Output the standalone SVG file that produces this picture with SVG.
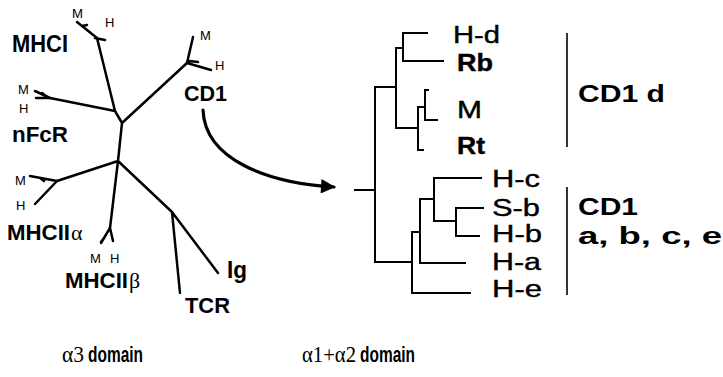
<svg xmlns="http://www.w3.org/2000/svg" width="723" height="377" viewBox="0 0 723 377">
<defs>
<style>
.tree{fill:none;stroke:#000;stroke-width:2.5;stroke-linecap:round;stroke-linejoin:round}
.dend{fill:none;stroke:#000;stroke-width:2;stroke-linecap:square}
.brk{fill:none;stroke:#000;stroke-width:1.6}
.lbl{font-family:"Liberation Sans",Arial,sans-serif;font-weight:bold;fill:#000}
.sm{font-family:"Liberation Sans",Arial,sans-serif;font-size:13px;fill:#000}
.leaf{font-family:"Liberation Sans",Arial,sans-serif;font-size:23px;fill:#000;stroke:#000;stroke-width:0.4}
.gr{font-family:"Liberation Serif","Times New Roman",serif;font-weight:normal;fill:#000}
</style>
<marker id="ah" viewBox="0 0 10 10" refX="9" refY="5" markerWidth="5" markerHeight="4.5" orient="auto" markerUnits="strokeWidth">
<path d="M0,0 L10,5 L0,10 z" fill="#000"/>
</marker>
</defs>
<rect width="723" height="377" fill="#fff"/>

<g id="connectors">
<path class="tree" d="M122,123 L115,111 M115,111 L97,38 M115,111 L50,98 M122,123 L187,63 M122,123 L118,161 M118,161 L57,181 M118,161 L110,228 M118,161 L172,212 L218,273 M172,212 L180,293"/>
<path class="tree" stroke-width="2" d="M97,38 L77,22 M82,26 L87,25 M95,38 L105,40 M187,63 L193,37 M187,63 L211,70 M189,61 L198,62 M50,98 L35,91 M50,98 L36,98 M46,96 L42,93 M57,181 L30,176 M40,178 L44,181 M57,181 L35,204 M110,228 L101,243 M110,228 L113,241 M104,238 L101,242"/>
<path fill="none" stroke="#000" stroke-width="3.2" stroke-linecap="round" d="M203,110 C205,160 268,183 334,187" marker-end="url(#ah)"/>
<path class="dend" d="M355,190 L375,190 M375,87 L375,262 M375,87 L396,87 M396,48 L396,128 M396,48 L403,48 M403,33 L403,61 M403,33 L427,33 M403,61 L443,61 M396,128 L418,128 M418,107 L418,150 M418,107 L425,107 M425,90 L425,120 M425,90 L428,90 M425,120 L437,120 M418,150 L423,150 M375,262 L412,262 M412,232 L412,293 M412,232 L420,232 M420,199 L420,263 M420,199 L434,199 M434,178 L434,221 M434,178 L481,178 M434,221 L456,221 M456,208 L456,236 M456,208 L483,208 M456,236 L479,236 M420,263 L465,263 M412,293 L470,293"/>
<path class="brk" d="M567,33 L567,147 M567,187 L567,295"/>
</g>

<g id="node-MHCI">
<text class="lbl" x="12" y="52" font-size="24" textLength="56" lengthAdjust="spacingAndGlyphs">MHCI</text>
<text class="sm" x="72" y="18" textLength="11" lengthAdjust="spacingAndGlyphs">M</text>
<text class="sm" x="105" y="27">H</text>
</g>
<g id="node-nFcR">
<text class="lbl" x="12" y="142" font-size="22" textLength="56" lengthAdjust="spacingAndGlyphs">nFcR</text>
<text class="sm" x="18" y="94">M</text>
<text class="sm" x="19" y="113">H</text>
</g>
<g id="node-CD1">
<text class="lbl" x="184" y="101" font-size="22" textLength="43" lengthAdjust="spacingAndGlyphs">CD1</text>
<text class="sm" x="200" y="40">M</text>
<text class="sm" x="215" y="70">H</text>
</g>
<g id="node-MHCIIa">
<text class="lbl" x="7" y="240" font-size="22" textLength="63" lengthAdjust="spacingAndGlyphs">MHCII</text>
<text class="gr" x="71" y="240" font-size="22">α</text>
<text class="sm" x="15" y="185">M</text>
<text class="sm" x="16" y="210">H</text>
</g>
<g id="node-MHCIIb">
<text class="lbl" x="65" y="288" font-size="22" textLength="63" lengthAdjust="spacingAndGlyphs">MHCII</text>
<text class="gr" x="129" y="288" font-size="22">β</text>
<text class="sm" x="90" y="263">M</text>
<text class="sm" x="110" y="263">H</text>
</g>
<g id="node-Ig">
<text class="lbl" x="227" y="278" font-size="24" textLength="20" lengthAdjust="spacingAndGlyphs">Ig</text>
</g>
<g id="node-TCR">
<text class="lbl" x="185" y="313" font-size="22" textLength="45" lengthAdjust="spacingAndGlyphs">TCR</text>
</g>

<g id="node-Hd"><text class="leaf" x="453" y="43" textLength="47" lengthAdjust="spacingAndGlyphs">H-d</text></g>
<g id="node-Rb"><text class="leaf" x="457" y="71" font-weight="bold" textLength="36" lengthAdjust="spacingAndGlyphs">Rb</text></g>
<g id="node-M"><text class="leaf" x="457" y="118" textLength="25" lengthAdjust="spacingAndGlyphs">M</text></g>
<g id="node-Rt"><text class="leaf" x="457" y="154" font-weight="bold" textLength="28" lengthAdjust="spacingAndGlyphs">Rt</text></g>
<g id="node-Hc"><text class="leaf" x="492" y="187" textLength="48" lengthAdjust="spacingAndGlyphs">H-c</text></g>
<g id="node-Sb"><text class="leaf" x="492" y="216" textLength="48" lengthAdjust="spacingAndGlyphs">S-b</text></g>
<g id="node-Hb"><text class="leaf" x="492" y="242" textLength="50" lengthAdjust="spacingAndGlyphs">H-b</text></g>
<g id="node-Ha"><text class="leaf" x="492" y="270" textLength="49" lengthAdjust="spacingAndGlyphs">H-a</text></g>
<g id="node-He"><text class="leaf" x="492" y="297" textLength="50" lengthAdjust="spacingAndGlyphs">H-e</text></g>

<g id="node-CD1d">
<text class="lbl" x="578" y="102" font-size="24" textLength="87" lengthAdjust="spacingAndGlyphs">CD1 d</text>
</g>
<g id="node-CD1abce">
<text class="lbl" x="578" y="215" font-size="24" textLength="60" lengthAdjust="spacingAndGlyphs">CD1</text>
<text class="lbl" x="578" y="244" font-size="24" textLength="144" lengthAdjust="spacingAndGlyphs">a, b, c, e</text>
</g>

<g id="node-alpha3">
<text class="gr" x="62" y="362" font-size="24" textLength="22" lengthAdjust="spacingAndGlyphs">α3</text>
<text class="lbl" x="88" y="362" font-size="22" textLength="55" lengthAdjust="spacingAndGlyphs">domain</text>
</g>
<g id="node-alpha12">
<text class="gr" x="302" y="362" font-size="24" textLength="54" lengthAdjust="spacingAndGlyphs">α1+α2</text>
<text class="lbl" x="360" y="362" font-size="22" textLength="55" lengthAdjust="spacingAndGlyphs">domain</text>
</g>
</svg>
